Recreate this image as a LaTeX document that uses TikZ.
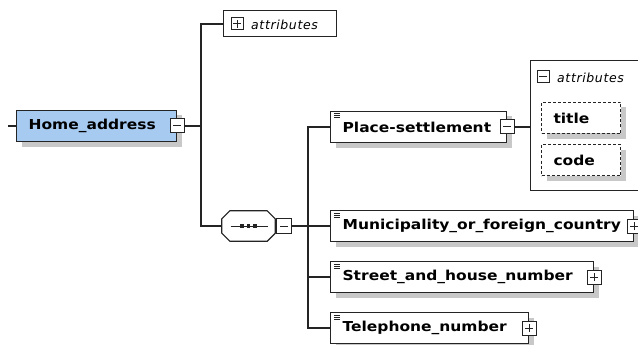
\documentclass[tikz,border=0pt]{standalone}
\usepackage{fontspec}
\usetikzlibrary{calc,shadows}
\newfontfamily\elemfont[FakeStretch=1.13]{DejaVu Sans}
\newfontfamily\attrfont[LetterSpace=5]{DejaVu Sans}
\definecolor{rootfill}{RGB}{166,202,240}
\definecolor{shade}{RGB}{200,200,200}
\definecolor{ink}{RGB}{36,36,36}

\tikzset{
  conn/.style={draw=ink, line width=1.1pt},
  boxshadow/.style={general shadow={shadow xshift=5pt, shadow yshift=-5pt, fill=shade}},
  elem/.style={draw=ink, line width=1.2pt, fill=white, rectangle, boxshadow,
    minimum height=31pt, inner xsep=12pt, inner ysep=0pt, align=left, anchor=west,
    font=\elemfont\bfseries\fontsize{13.7}{16}\selectfont},
  rootelem/.style={elem, fill=rootfill},
  attrelem/.style={elem, dashed, dash pattern=on 3pt off 2pt, line width=1pt,
    minimum height=31pt, anchor=north west},
  attrtext/.style={font=\attrfont\itshape\fontsize{12.5}{15}\selectfont, inner sep=0pt, anchor=west},
  toggle/.style={draw=ink, line width=1pt, fill=white, minimum width=14pt,
    minimum height=14pt, inner sep=0pt},
  tminus/.style={toggle, path picture={
    \draw[ink, line width=1pt] ([xshift=-4pt]path picture bounding box.center)
      -- ([xshift=4pt]path picture bounding box.center);}},
  tplus/.style={toggle, path picture={
    \draw[ink, line width=1pt] ([xshift=-4pt]path picture bounding box.center)
      -- ([xshift=4pt]path picture bounding box.center);
    \draw[ink, line width=1pt] ([yshift=-4pt]path picture bounding box.center)
      -- ([yshift=4pt]path picture bounding box.center);}},
  smalltoggle/.style={minimum width=12pt, minimum height=12pt},
  docicon/.pic={
    \foreach \dy in {3,5,7}
      \draw[ink, line width=0.8pt] (4,\dy) -- (10,\dy);
  }
}

\begin{document}
\begin{tikzpicture}[x=1pt, y=-1pt]
\useasboundingbox (0,0) rectangle (638,345);

% root element
\node[rootelem, text width=136pt] (home) at (16,126) {Home\_address};
\node[tminus] (hometog) at (home.east) {};

% attribute collection of the root element
\node[draw=ink, line width=1pt, fill=white, minimum width=113pt, minimum height=26pt,
      inner sep=0pt, anchor=west] (attrs) at (223,24) {};
\node[tplus, smalltoggle] (attrstog) at (237,24) {};
\node[attrtext] (attrslbl) at (251,24.5) {attributes};

% sequence compositor
\node[minimum width=53pt, minimum height=30pt, inner sep=0pt] (seq) at (248.5,226) {};
\fill[shade, shift={(5,5)}]
  ($(seq.north west)+(8,0)$) -- ($(seq.north east)+(-8,0)$) -- ($(seq.north east)+(0,8)$)
  -- ($(seq.south east)+(0,-8)$) -- ($(seq.south east)+(-8,0)$) -- ($(seq.south west)+(8,0)$)
  -- ($(seq.south west)+(0,-8)$) -- ($(seq.north west)+(0,8)$) -- cycle;
\filldraw[fill=white, draw=ink, line width=1.2pt]
  ($(seq.north west)+(8,0)$) -- ($(seq.north east)+(-8,0)$) -- ($(seq.north east)+(0,8)$)
  -- ($(seq.south east)+(0,-8)$) -- ($(seq.south east)+(-8,0)$) -- ($(seq.south west)+(8,0)$)
  -- ($(seq.south west)+(0,-8)$) -- ($(seq.north west)+(0,8)$) -- cycle;
\draw[ink, line width=1pt] ($(seq.center)+(-18,0)$) -- ($(seq.center)+(19,0)$);
\foreach \dx in {-6.5,0,6.5}
  \fill[ink] ($(seq.center)+(\dx-1.75,-1.75)$) rectangle ++(3.5,3.5);
\node[tminus, anchor=west, minimum width=15pt, minimum height=15pt] (seqtog) at ($(seq.east)+(1,0)$) {};

% child elements
\node[elem, text width=152pt] (place) at (330,127) {Place-settlement};
\node[elem, text width=279pt] (muni) at (330,226) {Municipality\_or\_foreign\_country};
\node[elem, text width=239pt] (street) at (330,277) {Street\_and\_house\_number};
\node[elem, text width=174pt] (tele) at (330,328) {Telephone\_number};
\foreach \n in {place,muni,street,tele}
  \pic at (\n.north west) {docicon};
\node[tminus] (placetog) at (place.east) {};
\node[tplus] (munitog) at (muni.east) {};
\node[tplus] (streettog) at (street.east) {};
\node[tplus] (teletog) at (tele.east) {};

% attributes of Place-settlement
\node[draw=ink, line width=1pt, minimum width=130pt, minimum height=130pt,
      inner sep=0pt, anchor=north west] (grp) at (530,60) {};
\node[tminus, smalltoggle] (grptog) at (543,77) {};
\node[attrtext] (grplbl) at (557,77.5) {attributes};
\node[attrelem, text width=55pt] (title) at (541,102) {title};
\node[attrelem, text width=55pt] (code) at (541,144) {code};

% connectors
\coordinate (stub) at (8,126);
\draw[conn] (stub) -- (home.west);
\coordinate (busA) at (201,126);
\draw[conn] (hometog.east) -- (busA);
\draw[conn] (busA) |- (attrs.west);
\draw[conn] (busA) |- (seq.west);
\coordinate (busB) at (308,226);
\draw[conn] (seqtog.east) -- (busB);
\draw[conn] (busB) |- (place.west);
\draw[conn] (busB) -- (muni.west);
\draw[conn] (busB) |- (street.west);
\draw[conn] (busB) |- (tele.west);
\draw[conn] (placetog.east) -- (placetog.east -| grp.west);
\end{tikzpicture}
\end{document}
